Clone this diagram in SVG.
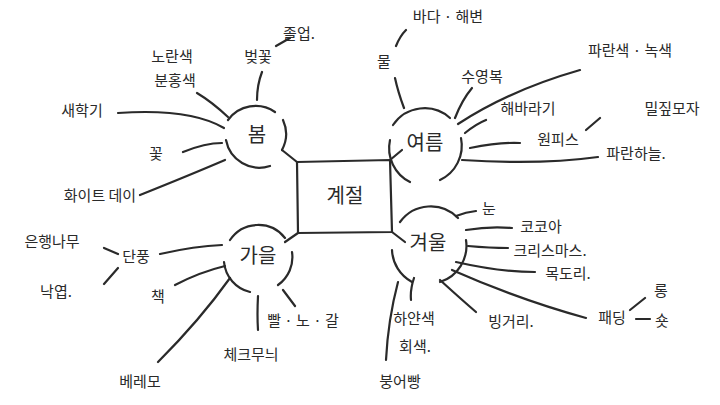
<svg xmlns="http://www.w3.org/2000/svg" width="720" height="405" viewBox="0 0 720 405">
<style>
.l{fill:none;stroke:#2a2a2a;stroke-width:2.2;stroke-linecap:round}
text{font-family:"Noto Sans CJK KR","Noto Sans",sans-serif;fill:#2a2a2a;font-size:15px;text-anchor:middle;dominant-baseline:middle}
.m{font-size:20px}
</style>
<rect width="720" height="405" fill="#fff"/>
<g id="center"><path class="l" d="M297 162 L390 160 L392 232 L298 233 Z"/><text class="m" x="345" y="198">계절</text></g>
<g id="spring"><path class="l" d="M228 120 A34 34 0 0 1 275 112 M283 120 A34 34 0 0 1 282 150 M270 166 A34 34 0 0 1 226 140"/><text class="m" x="257" y="137">봄</text></g>
<g id="summer"><path class="l" d="M393 125 A38 38 0 0 1 450 118 M461 138 A38 38 0 0 1 440 180 M410 182 A38 38 0 0 1 390 140"/><text class="m" x="425" y="145">여름</text></g>
<g id="autumn"><path class="l" d="M230 240 A34 34 0 0 1 285 238 M292 252 A34 34 0 0 1 278 285 M250 292 A34 34 0 0 1 224 262"/><text class="m" x="258" y="258">가을</text></g>
<g id="winter"><path class="l" d="M400 222 A38 38 0 0 1 458 218 M466 240 A38 38 0 0 1 440 282 M412 282 A38 38 0 0 1 392 250"/><text class="m" x="428" y="245">겨울</text></g>
<g id="connectors">
<path class="l" d="M297 162 L282 150 M390 160 L402 150 M298 233 L285 242 M392 232 L405 242"/>
<path class="l" d="M257 100 Q257 85 262 72 M276 46 L290 38 M228 117 Q212 102 197 93 M118 113 Q190 108 224 128 M183 152 Q205 143 222 143 M140 195 Q190 175 225 160"/>
<path class="l" d="M404 108 Q398 92 395 78 M396 46 Q400 36 406 30 M455 118 Q462 100 472 88 M458 124 Q510 90 580 70 M465 133 Q476 124 486 120 M470 148 Q500 142 520 143 M586 130 L600 118 M462 160 Q540 165 598 157"/>
<path class="l" d="M104 248 L118 254 M104 284 L118 268 M160 254 Q195 246 222 245 M175 285 Q200 272 225 266 M158 362 Q200 320 230 278 M258 330 Q257 315 258 296 M283 290 L295 306"/>
<path class="l" d="M456 216 Q466 212 476 211 M466 230 Q490 226 512 228 M468 246 Q490 248 508 248 M456 262 Q500 272 535 272 M452 270 Q520 300 586 318 M630 310 L645 298 M636 319 L650 319 M414 278 Q410 290 411 300 M440 280 Q462 300 476 312 M398 282 Q388 320 386 360"/>
</g>
<g id="labels">
<text x="258" y="58">벚꽃</text><text x="299" y="35">졸업.</text>
<text x="172" y="58">노란색</text><text x="175" y="82">분홍색</text>
<text x="82" y="112">새학기</text><text x="156" y="155">꽃</text><text x="100" y="197">화이트 데이</text>
<text x="384" y="63">물</text><text x="448" y="18">바다 · 해변</text><text x="482" y="78">수영복</text>
<text x="630" y="52">파란색 · 녹색</text><text x="528" y="110">해바라기</text><text x="558" y="141">원피스</text>
<text x="672" y="110">밀짚모자</text><text x="636" y="155">파란하늘.</text>
<text x="136" y="258">단풍</text><text x="52" y="243">은행나무</text><text x="56" y="293">낙엽.</text>
<text x="158" y="298">책</text><text x="140" y="383">베레모</text><text x="251" y="356">체크무늬</text><text x="303" y="322">빨 · 노 · 갈</text>
<text x="489" y="210">눈</text><text x="541" y="228">코코아</text><text x="550" y="252">크리스마스.</text><text x="568" y="275">목도리.</text>
<text x="612" y="319">패딩</text><text x="661" y="292">롱</text><text x="662" y="322">숏</text>
<text x="414" y="320">하얀색</text><text x="415" y="348">회색.</text><text x="511" y="323">빙거리.</text><text x="400" y="383">붕어빵</text>
</g>
</svg>
